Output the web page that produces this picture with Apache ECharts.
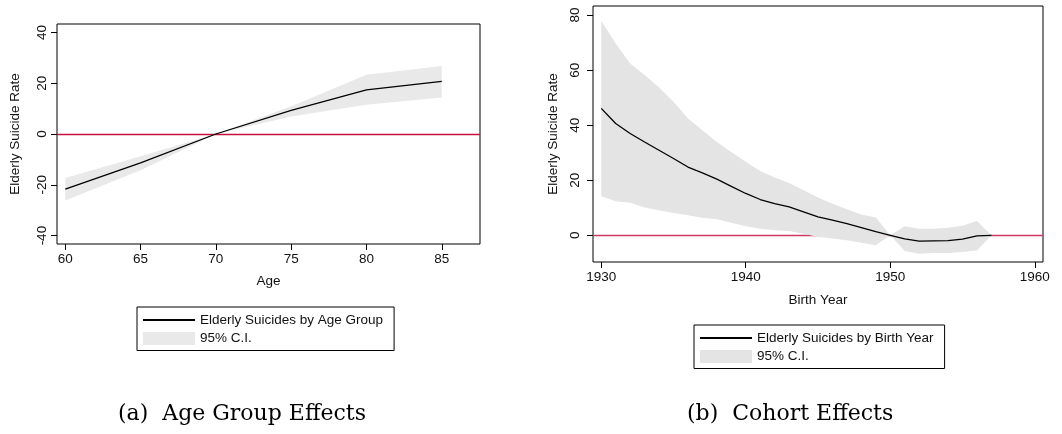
<!DOCTYPE html>
<html><head><meta charset="utf-8">
<style>html,body{margin:0;padding:0;background:#fff}#c{width:1062px;height:434px}</style>
<script src="https://cdn.jsdelivr.net/npm/echarts@6.0.0/dist/echarts.min.js"></script>
</head><body><div id="c"></div>
<script>
// ---- Panel (a): Age group effects ----
const ages = [60, 65, 70, 75, 80, 85];
const ageEst = [-21.7, -11.4, 0, 9.3, 17.4, 20.7];
const ageLo = [-26.2, -14.3, 0, 6.9, 11.5, 14.4];
const ageHi = [-17.3, -8.8, 0, 10.9, 23.3, 26.8];
const ageXTicks = [60, 65, 70, 75, 80, 85];
const ageYTicks = [-40, -20, 0, 20, 40];

// ---- Panel (b): Cohort effects ----
const years = [1930, 1931, 1932, 1933, 1934, 1935, 1936, 1937, 1938, 1939, 1940, 1941, 1942, 1943,
  1944, 1945, 1946, 1947, 1948, 1949, 1950, 1951, 1952, 1953, 1954, 1955, 1956, 1957];
const cohortEst = [46.1, 40.6, 37.0, 33.9, 30.9, 27.9, 24.8, 22.7, 20.4, 17.8, 15.2, 13.0, 11.5, 10.3,
  8.5, 6.7, 5.5, 4.2, 2.8, 1.3, 0, -1.3, -2.1, -2.0, -1.9, -1.4, -0.2, 0];
const cohortHi = [77.9, 69.7, 62.4, 58.2, 53.7, 48.5, 42.4, 38.2, 33.9, 30.3, 26.7, 23.4, 21.0, 19.0,
  16.4, 13.7, 11.5, 9.5, 7.6, 6.5, 0, 3.3, 2.4, 2.4, 2.7, 3.5, 5.2, 0];
const cohortLo = [14.2, 12.4, 11.8, 10.1, 9.1, 8.1, 7.3, 6.4, 5.8, 4.6, 3.3, 2.4, 1.8, 1.6,
  0.6, -0.6, -1.2, -1.8, -2.7, -3.6, 0, -5.7, -6.7, -6.4, -6.4, -6.1, -5.5, 0];
const yearXTicks = [1930, 1940, 1950, 1960];
const yearYTicks = [0, 20, 40, 60, 80];

const SANS = 'Liberation Sans';
const FS = 13.5;
const txt = { fontFamily: SANS, fontSize: FS, color: '#111' };
const plain = v => String(v);

function bandSeries(name, xs, lo, hi, idx, color) {
  return {
    type: 'custom', name: name, xAxisIndex: idx, yAxisIndex: idx, z: 2, silent: true,
    itemStyle: { color: color },
    data: xs.map((x, i) => [x, lo[i], hi[i]]),
    encode: { x: 0, y: [1, 2] },
    renderItem: function (params, api) {
      if (params.dataIndex !== 0) return null;
      const pts = [];
      for (let i = 0; i < xs.length; i++) pts.push(api.coord([xs[i], hi[i]]));
      for (let i = xs.length - 1; i >= 0; i--) pts.push(api.coord([xs[i], lo[i]]));
      return { type: 'polygon', shape: { points: pts }, style: { fill: color } };
    }
  };
}

function lineSeries(name, xs, ys, idx, zeroColor) {
  return {
    type: 'line', name: name, xAxisIndex: idx, yAxisIndex: idx, z: 3,
    data: xs.map((x, i) => [x, ys[i]]),
    symbol: 'none', lineStyle: { color: '#000', width: 1.3 }, itemStyle: { color: '#000' },
    markLine: {
      silent: true, symbol: 'none', z: 1, label: { show: false },
      lineStyle: { color: zeroColor, width: 1.3, type: 'solid' },
      emphasis: { disabled: true },
      data: [{ yAxis: 0 }]
    }
  };
}

function xAxis(idx, min, max, ticks, name, nameGap) {
  return {
    gridIndex: idx, type: 'value', min: min, max: max,
    axisLine: { show: false, onZero: false },
    splitLine: { show: false },
    axisTick: { show: true, customValues: ticks, length: 6, lineStyle: { color: '#000', width: 1 } },
    axisLabel: Object.assign({ customValues: ticks, margin: 8, formatter: plain }, txt),
    name: name, nameLocation: 'middle', nameGap: nameGap, nameTextStyle: txt
  };
}
function yAxis(idx, min, max, ticks, name, nameGap, margin) {
  return {
    gridIndex: idx, type: 'value', min: min, max: max,
    axisLine: { show: false, onZero: false },
    splitLine: { show: false },
    axisTick: { show: true, customValues: ticks, length: 6, lineStyle: { color: '#000', width: 1 } },
    axisLabel: Object.assign({ customValues: ticks, margin: margin, rotate: 90, formatter: plain }, txt),
    name: name, nameLocation: 'middle', nameGap: nameGap, nameTextStyle: txt
  };
}

function legend(left, top, names, swatch) {
  return {
    left: left, top: top, orient: 'vertical', selectedMode: false,
    data: [
      { name: names[0], icon: 'inherit', itemStyle: { opacity: 0 } },
      { name: names[1], icon: 'rect', itemStyle: { color: swatch } }
    ],
    itemWidth: 52, itemHeight: 13, itemGap: 2.5, padding: [5, 11, 4, 5],
    borderColor: '#000', borderWidth: 1,
    textStyle: Object.assign({ lineHeight: 16 }, txt)
  };
}

const chart = echarts.init(document.getElementById('c'), null, { renderer: 'canvas' });
chart.setOption({
  animation: false,
  backgroundColor: '#fff',
  grid: [
    { left: 57, top: 24, width: 423, height: 220, show: true, borderColor: '#000', borderWidth: 1 },
    { left: 593, top: 6, width: 450, height: 256, show: true, borderColor: '#000', borderWidth: 1 }
  ],
  xAxis: [
    xAxis(0, 59.45, 87.54, ageXTicks, 'Age', 30),
    xAxis(1, 1929.43, 1960.57, yearXTicks, 'Birth Year', 31)
  ],
  yAxis: [
    yAxis(0, -43.3, 43.3, ageYTicks, 'Elderly Suicide Rate', 35, 8),
    yAxis(1, -9.7, 83.3, yearYTicks, 'Elderly Suicide Rate', 33, 11)
  ],
  legend: [
    legend(137, 307, ['Elderly Suicides by Age Group', '95% C.I.'], '#e9e9e9'),
    legend(694, 325, ['Elderly Suicides by Birth Year', '95% C.I.'], '#e4e4e4')
  ],
  title: [
    { text: '(a)  Age Group Effects', left: 118, top: 403, padding: 0,
      textStyle: { fontFamily: 'DejaVu Serif', fontSize: 22, fontWeight: 'normal', color: '#000' } },
    { text: '(b)  Cohort Effects', left: 687, top: 403, padding: 0,
      textStyle: { fontFamily: 'DejaVu Serif', fontSize: 22, fontWeight: 'normal', color: '#000' } }
  ],
  series: [
    bandSeries('95% C.I.', ages, ageLo, ageHi, 0, '#e9e9e9'),
    lineSeries('Elderly Suicides by Age Group', ages, ageEst, 0, '#c8103c'),
    bandSeries('95% C.I.', years, cohortLo, cohortHi, 1, '#e4e4e4'),
    lineSeries('Elderly Suicides by Birth Year', years, cohortEst, 1, '#cc3a62')
  ]
});
</script>
</body></html>
